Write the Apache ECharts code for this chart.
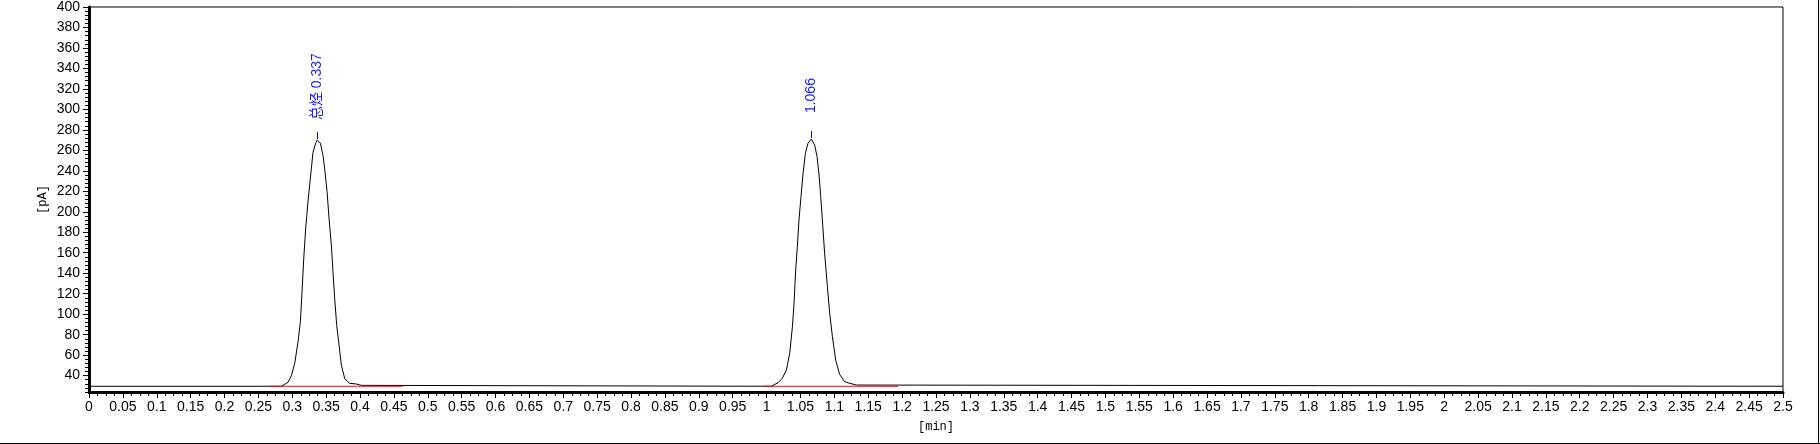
<!DOCTYPE html>
<html>
<head>
<meta charset="utf-8">
<script src="https://cdn.jsdelivr.net/npm/echarts@6/dist/echarts.min.js"></script>
<style>
html,body{margin:0;padding:0;background:#fff;}
#c{width:1820px;height:444px;}
</style>
</head>
<body>
<div id="c"></div>
<script>
// ---- data ----
const traceTime = [
  0, 0.2840, 0.2864, 0.2937, 0.2986, 0.3036, 0.3085, 0.3120, 0.3144, 0.3169, 0.3198, 0.3232,
  0.3267, 0.3306, 0.3346, 0.3370, 0.3415, 0.3454, 0.3483, 0.3513, 0.3542, 0.3577, 0.3601,
  0.3626, 0.3656, 0.3690, 0.3725, 0.3774, 0.3847, 0.3946, 0.4020, 0.4040,
  1.0070, 1.0095, 1.0169, 1.0233, 1.0292, 1.0341, 1.0381, 1.0405, 1.0429, 1.0454, 1.0478,
  1.0508, 1.0537, 1.0572, 1.0611, 1.0660, 1.0710, 1.0744, 1.0773, 1.0798, 1.0823, 1.0857,
  1.0897, 1.0931, 1.0971, 1.1020, 1.1079, 1.1153, 1.1226, 1.1325, 1.1350, 2.5
];
const traceSignal = [
  29.6, 29.6, 31.0, 33.5, 39.9, 52, 73, 93, 122, 154, 184, 210,
  233, 258, 267, 270, 267, 255, 239, 220, 194, 167, 141,
  115, 89, 70, 50, 37, 32.5, 31.8, 30.5, 29.6,
  29.6, 30.8, 33.1, 37.4, 45.5, 61.7, 87.7, 110.5, 143, 166, 192,
  215, 237, 257, 267, 271, 265, 254, 237, 215, 192, 159,
  127, 101, 78, 55, 41, 34, 32.5, 30.8, 29.6, 29.6
];
const peakTimes = [0.337, 1.066];
const peakHeights = [270, 271];
const peakLabels = ['总烃 0.337', '1.066'];
const integStart = [0.267, 0.994];
const integEnd = [0.463, 1.194];
const integLevel = [29.6, 29.6];
const yTickValues = [40, 60, 80, 100, 120, 140, 160, 180, 200, 220, 240, 260, 280, 300, 320, 340, 360, 380, 400];
const xName = '[min]';
const yName = '[pA]';

// ---- styling (not data) ----
const peakLabelGap = [20, 26];
const FONT = 'Liberation Sans, Arial, Noto Sans CJK SC, sans-serif';
const MONO = 'Liberation Mono, DejaVu Sans Mono, monospace';

const chart = echarts.init(document.getElementById('c'), null, {renderer: 'canvas'});

const traceData = traceTime.map((t, i) => [t, traceSignal[i]]);
const peakData = peakTimes.map((t, i) => [t, peakHeights[i]]);

const integSeries = integStart.map((s, i) => ({
  type: 'line',
  data: [[s, integLevel[i]], [integEnd[i], integLevel[i]]],
  showSymbol: false,
  lineStyle: {color: '#ff0000', width: 1},
  z: 3,
  silent: true
}));

const option = {
  animation: false,
  backgroundColor: '#fff',
  grid: {left: 89, right: 37, top: 7, bottom: 52, show: true, borderColor: '#000', borderWidth: 1, backgroundColor: 'transparent'},
  xAxis: {
    type: 'value', min: 0, max: 2.5, interval: 0.05,
    name: xName, nameLocation: 'middle', nameGap: 29,
    nameTextStyle: {fontFamily: MONO, fontSize: 12, color: '#000'},
    axisLine: {show: true, onZero: false, lineStyle: {color: '#000', width: 3}},
    axisTick: {show: true, length: 6, lineStyle: {color: '#000', width: 1}},
    minorTick: {show: true, splitNumber: 4, length: 4, lineStyle: {color: '#000', width: 1}},
    axisLabel: {fontFamily: FONT, fontSize: 14, color: '#000', margin: 8},
    splitLine: {show: false}, minorSplitLine: {show: false}
  },
  yAxis: [
    {
      type: 'value', min: 24, max: 400, interval: 4, position: 'left',
      name: yName, nameLocation: 'middle', nameGap: 40,
      nameTextStyle: {fontFamily: MONO, fontSize: 12, color: '#000'},
      axisLine: {show: true, onZero: false, lineStyle: {color: '#000', width: 3}},
      axisTick: {show: true, length: 4, lineStyle: {color: '#000', width: 1}},
      axisLabel: {show: false},
      splitLine: {show: false}
    },
    {
      type: 'value', min: 24, max: 400, position: 'left',
      axisLine: {show: false},
      axisTick: {show: true, length: 6, customValues: yTickValues, lineStyle: {color: '#000', width: 1}},
      axisLabel: {show: true, customValues: yTickValues, fontFamily: FONT, fontSize: 14, color: '#000', margin: 9},
      splitLine: {show: false}
    }
  ],
  series: [
    {
      type: 'line', data: traceData, showSymbol: false, symbol: 'none',
      lineStyle: {color: '#000', width: 1}, z: 2, silent: true
    },
    ...integSeries,
    {
      type: 'custom', data: peakData, z: 4, silent: true,
      renderItem: function (params, api) {
        const p = api.coord([api.value(0), api.value(1)]);
        const i = params.dataIndex;
        return {
          type: 'group',
          children: [
            {type: 'line', shape: {x1: Math.round(p[0]) + 0.5, y1: p[1] - 1, x2: Math.round(p[0]) + 0.5, y2: p[1] - 8},
             style: {stroke: '#0000ff', lineWidth: 1}},
            {type: 'text', x: p[0], y: p[1] - peakLabelGap[i], rotation: Math.PI / 2,
             style: {text: peakLabels[i], fill: '#1a1aff', font: '14px ' + FONT, align: 'left', verticalAlign: 'middle'}}
          ]
        };
      }
    }
  ],
  graphic: [
    {type: 'line', shape: {x1: 0, y1: 443.5, x2: 1820, y2: 443.5}, style: {stroke: '#000', lineWidth: 1}, silent: true},
    {type: 'line', shape: {x1: 1818.5, y1: 0, x2: 1818.5, y2: 444}, style: {stroke: '#000', lineWidth: 1}, silent: true}
  ]
};
chart.setOption(option);
</script>
</body>
</html>
